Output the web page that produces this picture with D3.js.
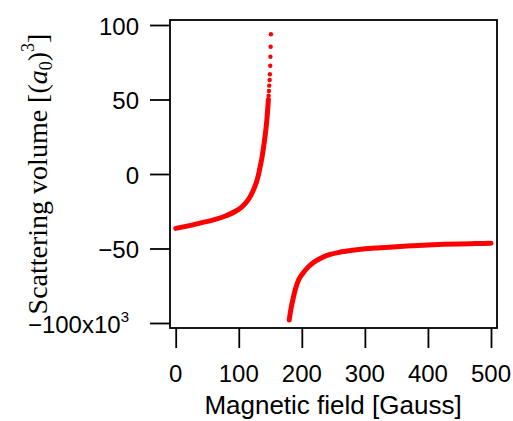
<!DOCTYPE html>
<html>
<head>
<meta charset="utf-8">
<script src="https://cdn.jsdelivr.net/npm/d3@7"></script>
<style>
  html, body { margin: 0; padding: 0; background: #fff; }
  svg { display: block; }
</style>
</head>
<body>
<svg id="chart" width="513" height="421"></svg>
<script>
// ---- data ----
// left branch, dense part (Gauss, scattering volume in units of 10^3 a0^3)
const leftField = [0, 20, 40, 60, 80, 95, 105, 113, 119, 124, 128, 131, 134, 137, 140, 142.5, 144.5, 146, 147];
const leftVolume = [-36.5, -34.8, -32.8, -30.8, -28, -25, -22, -18.5, -14.5, -10, -5.5, -1, 5, 11.5, 20, 28, 36, 44, 50];
// left branch, sparse tip (individual dots)
const tipField = [147.4, 147.9, 148.3, 149.0, 149.4, 149.9, 150.2, 150.6, 151.0];
const tipVolume = [52.5, 55.7, 59.3, 63.1, 66.9, 72.7, 78.7, 85.4, 93.8];
// right branch
const rightField = [180, 183, 186, 190, 195, 202, 210, 218, 230, 245, 260, 280, 300, 325, 350, 375, 400, 425, 450, 475, 500];
const rightVolume = [-98, -90, -84, -77, -71, -66.5, -62.5, -59.5, -56.5, -54, -52.5, -51.2, -50.2, -49.5, -48.8, -48.2, -47.6, -47.2, -46.9, -46.7, -46.5];

const xTicks = [0, 100, 200, 300, 400, 500];
const yTicks = [100, 50, 0, -50, -100];
const xTitle = "Magnetic field [Gauss]";

// ---- layout ----
const svg = d3.select("#chart");
const box = { left: 170, top: 20, right: 497, bottom: 328 };

const x = d3.scaleLinear().domain([0, 500]).range([175.7, 491]);
const y = d3.scaleLinear().domain([-100, 100]).range([323, 25]);

const red = "#ff0000";

// data marks
const toPts = (xs, ys) => xs.map((v, i) => [v, ys[i]]);
const line = d3.line().x(d => x(d[0])).y(d => y(d[1])).curve(d3.curveMonotoneX);

const marks = svg.append("g");
[toPts(leftField, leftVolume), toPts(rightField, rightVolume)].forEach(pts => {
  marks.append("path")
    .attr("d", line(pts))
    .attr("fill", "none")
    .attr("stroke", red)
    .attr("stroke-width", 5)
    .attr("stroke-linecap", "round")
    .attr("stroke-linejoin", "round");
});
marks.selectAll("circle.tip")
  .data(toPts(tipField, tipVolume))
  .join("circle")
  .attr("class", "tip")
  .attr("cx", d => x(d[0]))
  .attr("cy", d => y(d[1]))
  .attr("r", 2.2)
  .attr("fill", red);

// frame
svg.append("rect")
  .attr("x", box.left).attr("y", box.top)
  .attr("width", box.right - box.left).attr("height", box.bottom - box.top)
  .attr("fill", "none").attr("stroke", "#000").attr("stroke-width", 1.8);

// y axis ticks
const yAxis = svg.append("g").attr("transform", `translate(${box.left},0)`)
  .call(d3.axisLeft(y).tickValues(yTicks).tickSize(20).tickFormat(""));
yAxis.select(".domain").remove();
yAxis.selectAll(".tick line").attr("stroke", "#000").attr("stroke-width", 1.8);

// x axis ticks
const xAxis = svg.append("g").attr("transform", `translate(0,${box.bottom})`)
  .call(d3.axisBottom(x).tickValues(xTicks).tickSize(20).tickFormat(""));
xAxis.select(".domain").remove();
xAxis.selectAll(".tick line").attr("stroke", "#000").attr("stroke-width", 1.8);

const sans = "'Liberation Sans', Arial, sans-serif";

// y tick labels
yTicks.forEach(v => {
  const t = svg.append("text")
    .attr("x", v === -100 ? 129 : 139)
    .attr("y", y(v) + 9.5)
    .attr("text-anchor", "end")
    .attr("font-family", sans)
    .attr("font-size", 24)
    .attr("fill", "#000");
  const label = (v < 0 ? "\u2212" : "") + Math.abs(v);
  if (v === -100) {
    t.append("tspan").text(label + "x10");
    t.append("tspan").attr("font-size", 15).attr("dy", -11).text("3");
  } else {
    t.text(label);
  }
});

// x tick labels
xTicks.forEach(v => {
  svg.append("text")
    .attr("x", x(v))
    .attr("y", 381.5)
    .attr("text-anchor", "middle")
    .attr("font-family", sans)
    .attr("font-size", 24)
    .attr("fill", "#000")
    .text(v);
});

// x title
svg.append("text")
  .attr("x", 333)
  .attr("y", 414)
  .attr("text-anchor", "middle")
  .attr("font-family", sans)
  .attr("font-size", 26)
  .attr("fill", "#000")
  .text(xTitle);

// y title (serif, rotated)
const yt = svg.append("text")
  .attr("transform", `translate(47,${(box.top + box.bottom) / 2}) rotate(-90)`)
  .attr("text-anchor", "middle")
  .attr("font-family", "'Liberation Serif', 'Times New Roman', serif")
  .attr("font-size", 28)
  .attr("fill", "#000");
yt.append("tspan").text("Scattering volume [(");
yt.append("tspan").attr("font-style", "italic").text("a");
yt.append("tspan").attr("font-size", 18).attr("dy", 5).text("0");
yt.append("tspan").attr("dy", -5).text(")");
yt.append("tspan").attr("font-size", 18).attr("dy", -13).text("3");
yt.append("tspan").attr("dy", 13).text("]");
</script>
</body>
</html>
